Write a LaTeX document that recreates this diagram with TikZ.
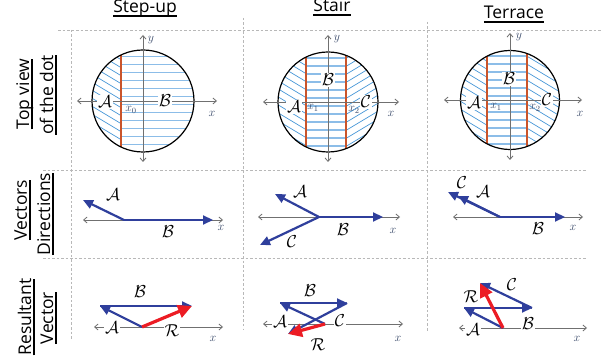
\documentclass[tikz,border=0pt]{standalone}
\usepackage{fontspec}
\setmainfont{Open Sans}
\usetikzlibrary{arrows.meta}
\definecolor{vblue}{HTML}{2F3F9C}
\definecolor{vred}{HTML}{EC1C24}
\definecolor{hatchc}{HTML}{4E9BD9}
\definecolor{hlinec}{HTML}{8CBDE8}
\definecolor{redlinec}{HTML}{C9542B}
\definecolor{axisgray}{HTML}{707070}
\definecolor{gridgray}{HTML}{B8B8B8}
\definecolor{xlab}{HTML}{3B4B6B}
\newcommand{\ulx}[1]{\setbox0=\hbox{#1}\leavevmode\rlap{\rule[-3.8pt]{\wd0}{1.4pt}}\box0}
\tikzset{
 gridline/.style={gridgray, line width=0.8pt, dash pattern=on 2.5pt off 2pt},
 axisline/.style={axisgray, line width=0.8pt, {Straight Barb[length=3.5pt,width=6pt]}-{Straight Barb[length=3.5pt,width=6pt]}},
 vec/.style={vblue, line width=2.2pt, -{Triangle[length=10pt,width=9pt]}},
 resv/.style={vred, line width=3.2pt, -{Triangle[length=14pt,width=13pt]}},
 heading/.style={font=\fontsize{17.5}{20}\selectfont, inner sep=0pt, anchor=base},
 sidelab/.style={font=\fontsize{17.5}{20}\selectfont, rotate=90, inner sep=0pt, anchor=base},
 cal/.style={font=\fontsize{19}{22}\selectfont, inner sep=0.8pt},
 calw/.style={cal, fill=white},
 smalllab/.style={font=\fontsize{12.5}{14}\selectfont, inner sep=0pt, text=xlab},
 sublab/.style={font=\fontsize{11.5}{13}\selectfont, inner sep=0pt, text=xlab},
 hl/.style={hlinec, line width=1.5pt},
 hatchline/.style={hatchc, line width=0.75pt},
 redl/.style={redlinec, line width=2pt},
 dotc/.style={black, line width=1.2pt},
}
\begin{document}
\begin{tikzpicture}[x=1pt,y=-1pt]
\useasboundingbox[fill=white] (0,0) rectangle (608,358);
% grid
\coordinate (h1a) at (58,30); \coordinate (h1b) at (602,30);
\coordinate (h2a) at (43,170); \coordinate (h2b) at (587,170);
\coordinate (h3a) at (43,258); \coordinate (h3b) at (587,258);
\coordinate (v1a) at (71,30); \coordinate (v1b) at (71,339);
\coordinate (v2a) at (243,18); \coordinate (v2b) at (243,330);
\coordinate (v3a) at (427,22); \coordinate (v3b) at (427,332);
\draw[gridline] (h1a) -- (h1b);
\draw[gridline] (h2a) -- (h2b);
\draw[gridline] (h3a) -- (h3b);
\draw[gridline] (v1a) -- (v1b);
\draw[gridline] (v2a) -- (v2b);
\draw[gridline] (v3a) -- (v3b);
% headings
\node[heading] (t1) at (145,13) {\ulx{Step-up}};
\node[heading] (t2) at (332,12) {\ulx{Stair}};
\node[heading] (t3) at (514,19) {\ulx{Terrace}};
% side labels
\node[sidelab] (s1a) at (29,94) {\ulx{Top view}};
\node[sidelab] (s1b) at (53,95) {\ulx{of the dot}};
\node[sidelab] (s2a) at (27,210) {\ulx{Vectors}};
\node[sidelab] (s2b) at (50,214) {\ulx{Directions}};
\node[sidelab] (s3a) at (31,317) {\ulx{Resultant}};
\node[sidelab] (s3b) at (53,318) {\ulx{Vector}};

% ===== Row 1: Step-up =====
\coordinate (c1) at (143,101);
\begin{scope}
\clip (c1) circle[radius=51];
\begin{scope}
\clip (80,40) rectangle (121,170);
\foreach \k in {-14,...,14} \draw[hatchline] (70,{101+8*\k}) -- ++(60,36);
\end{scope}
\foreach \k in {-7,...,6} \draw[hl] (121,{104.5+8*\k}) -- (200,{104.5+8*\k});
\draw[redl] (121,40) -- (121,170);
\end{scope}
\draw[dotc] (c1) circle[radius=51];
\coordinate (ax1l) at (77,101); \coordinate (ax1r) at (217,101);
\coordinate (ay1t) at (143,35); \coordinate (ay1b) at (143,162);
\draw[axisline] (ax1l) -- (ax1r);
\draw[axisline] (ay1b) -- (ay1t);
\node[calw] (a1A) at (105,102) {$\mathcal{A}$};
\node[calw] (a1B) at (165,101) {$\mathcal{B}$};
\node[sublab] (a1x0) at (131,110) {$x_0$};
\node[smalllab] (a1x) at (212,114) {$x$};
\node[smalllab] (a1y) at (151,40) {$y$};

% ===== Row 1: Stair =====
\coordinate (c2) at (328,102);
\begin{scope}
\clip (c2) circle[radius=50];
\begin{scope}
\clip (270,40) rectangle (306,170);
\foreach \k in {-14,...,14} \draw[hatchline] (260,{102+8*\k}) -- ++(60,36);
\end{scope}
\begin{scope}
\clip (346,40) rectangle (390,170);
\foreach \k in {-14,...,14} \draw[hatchline] (340,{102+8*\k}) -- ++(60,-36);
\end{scope}
\foreach \k in {-7,...,6} \draw[hl] (306,{106+8*\k}) -- (346,{106+8*\k});
\draw[redl] (306,40) -- (306,170);
\draw[redl] (346,40) -- (346,170);
\end{scope}
\draw[dotc] (c2) circle[radius=50];
\coordinate (ax2l) at (263,102); \coordinate (ax2r) at (399,102);
\coordinate (ay2t) at (328,35); \coordinate (ay2b) at (328,162);
\draw[axisline] (ax2l) -- (ax2r);
\draw[axisline] (ay2b) -- (ay2t);
\node[calw] (a2A) at (294,107) {$\mathcal{A}$};
\node[calw] (a2B) at (328,80) {$\mathcal{B}$};
\node[calw] (a2C) at (366,102) {$\mathcal{C}$};
\node[sublab] (a2x1) at (313,108) {$x_1$};
\node[sublab] (a2x2) at (354,110) {$x_2$};
\node[smalllab] (a2x) at (391,114) {$x$};
\node[smalllab] (a2y) at (337,39) {$y$};

% ===== Row 1: Terrace =====
\coordinate (c3) at (510,100);
\begin{scope}
\clip (c3) circle[radius=49.5];
\begin{scope}
\clip (455,40) rectangle (487,170);
\foreach \k in {-14,...,14} \draw[hatchline] (445,{100+8*\k}) -- ++(60,36);
\end{scope}
\begin{scope}
\clip (527,40) rectangle (570,170);
\foreach \k in {-14,...,14} \draw[hatchline] (520,{100+8*\k}) -- ++(60,36);
\end{scope}
\foreach \k in {-7,...,6} \draw[hl] (487,{104+8*\k}) -- (527,{104+8*\k});
\draw[redl] (487,40) -- (487,170);
\draw[redl] (527,40) -- (527,170);
\end{scope}
\draw[dotc] (c3) circle[radius=49.5];
\coordinate (ax3l) at (444,100); \coordinate (ax3r) at (582,100);
\coordinate (ay3t) at (510,33); \coordinate (ay3b) at (510,160);
\draw[axisline] (ax3l) -- (ax3r);
\draw[axisline] (ay3b) -- (ay3t);
\node[calw] (a3A) at (474,103) {$\mathcal{A}$};
\node[calw] (a3B) at (509,79) {$\mathcal{B}$};
\node[calw] (a3C) at (547,100) {$\mathcal{C}$};
\node[sublab] (a3x1) at (496,107) {$x_1$};
\node[sublab] (a3x2) at (535,108) {$x_2$};
\node[smalllab] (a3x) at (580,114) {$x$};
\node[smalllab] (a3y) at (519,37) {$y$};

% ===== Row 2 =====
% Step-up
\coordinate (d1l) at (83,220); \coordinate (d1r) at (223,220);
\coordinate (d1o) at (124,220); \coordinate (d1B) at (213,220); \coordinate (d1A) at (83,200);
\draw[axisline] (d1l) -- (d1r);
\draw[vec] (d1o) -- (d1B);
\draw[vec] (d1o) -- (d1A);
\node[cal] (b1A) at (113,195) {$\mathcal{A}$};
\node[cal] (b1B) at (168,232) {$\mathcal{B}$};
\node[smalllab] (b1x) at (221,228) {$x$};
% Stair
\coordinate (d2l) at (258,217); \coordinate (d2r) at (400,217);
\coordinate (d2o) at (319,217); \coordinate (d2B) at (383,217);
\coordinate (d2A) at (275,194); \coordinate (d2C) at (260,245);
\draw[axisline] (d2l) -- (d2r);
\draw[vec] (d2o) -- (d2B);
\draw[vec] (d2o) -- (d2A);
\draw[vec] (d2o) -- (d2C);
\node[cal] (b2A) at (300,192) {$\mathcal{A}$};
\node[cal] (b2B) at (343,230) {$\mathcal{B}$};
\node[cal] (b2C) at (292,242) {$\mathcal{C}$};
\node[smalllab] (b2x) at (393,231) {$x$};
% Terrace
\coordinate (d3l) at (453,217); \coordinate (d3r) at (583,217);
\coordinate (d3o) at (500,217); \coordinate (d3B) at (565,217);
\coordinate (d3A) at (458,196); \coordinate (d3C) at (448,192);
\draw[axisline] (d3l) -- (d3r);
\draw[vec] (d3o) -- (d3B);
\draw[vec] (d3o) -- (d3C);
\draw[vec] (d3o) -- (d3A);
\node[cal] (b3C) at (462,183) {$\mathcal{C}$};
\node[cal] (b3A) at (483,192) {$\mathcal{A}$};
\node[cal] (b3B) at (538,229) {$\mathcal{B}$};
\node[smalllab] (b3x) at (573,228) {$x$};

% ===== Row 3 =====
% Step-up
\coordinate (r1l) at (94,327); \coordinate (r1r) at (223,327);
\coordinate (r1o) at (142,327); \coordinate (r1p) at (100,306); \coordinate (r1q) at (192,306);
\draw[axisline] (r1l) -- (r1r);
\node[calw] (e1A) at (112,328) {$\mathcal{A}$};
\node[calw] (e1R) at (172,331) {$\mathcal{R}$};
\node[cal] (e1B) at (140,292) {$\mathcal{B}$};
\node[smalllab] (e1x) at (213,339) {$x$};
\draw[vec] (r1o) -- (r1p);
\draw[vec] (r1p) -- (r1q);
\draw[resv] (r1o) -- (r1q);
% Stair
\coordinate (r2l) at (263,324); \coordinate (r2r) at (403,324);
\coordinate (r2o) at (325,324); \coordinate (r2p) at (280,303); \coordinate (r2q) at (347,303);
\coordinate (r2s) at (288,334);
\draw[axisline] (r2l) -- (r2r);
\node[calw] (e2A) at (280,322) {$\mathcal{A}$};
\node[calw] (e2C) at (340,321) {$\mathcal{C}$};
\node[cal] (e2B) at (310,291) {$\mathcal{B}$};
\node[cal] (e2R) at (318,345) {$\mathcal{R}$};
\node[smalllab] (e2x) at (398,339) {$x$};
\draw[vec] (r2o) -- (r2p);
\draw[vec] (r2p) -- (r2q);
\draw[vec] (r2q) -- (r2s);
\draw[resv] (r2o) -- (r2s);
% Terrace
\coordinate (r3l) at (459,328); \coordinate (r3r) at (587,328);
\coordinate (r3o) at (503,328); \coordinate (r3p) at (464,308); \coordinate (r3q) at (532,308);
\coordinate (r3s) at (480,283);
\draw[axisline] (r3l) -- (r3r);
\node[calw] (e3A) at (473,330) {$\mathcal{A}$};
\node[calw] (e3B) at (528,324) {$\mathcal{B}$};
\node[cal] (e3R) at (471,297) {$\mathcal{R}$};
\node[cal] (e3C) at (512,285) {$\mathcal{C}$};
\node[smalllab] (e3x) at (577,339) {$x$};
\draw[vec] (r3o) -- (r3p);
\draw[vec] (r3p) -- (r3q);
\draw[vec] (r3q) -- (r3s);
\draw[resv] (r3o) -- (r3s);
\end{tikzpicture}
\end{document}
